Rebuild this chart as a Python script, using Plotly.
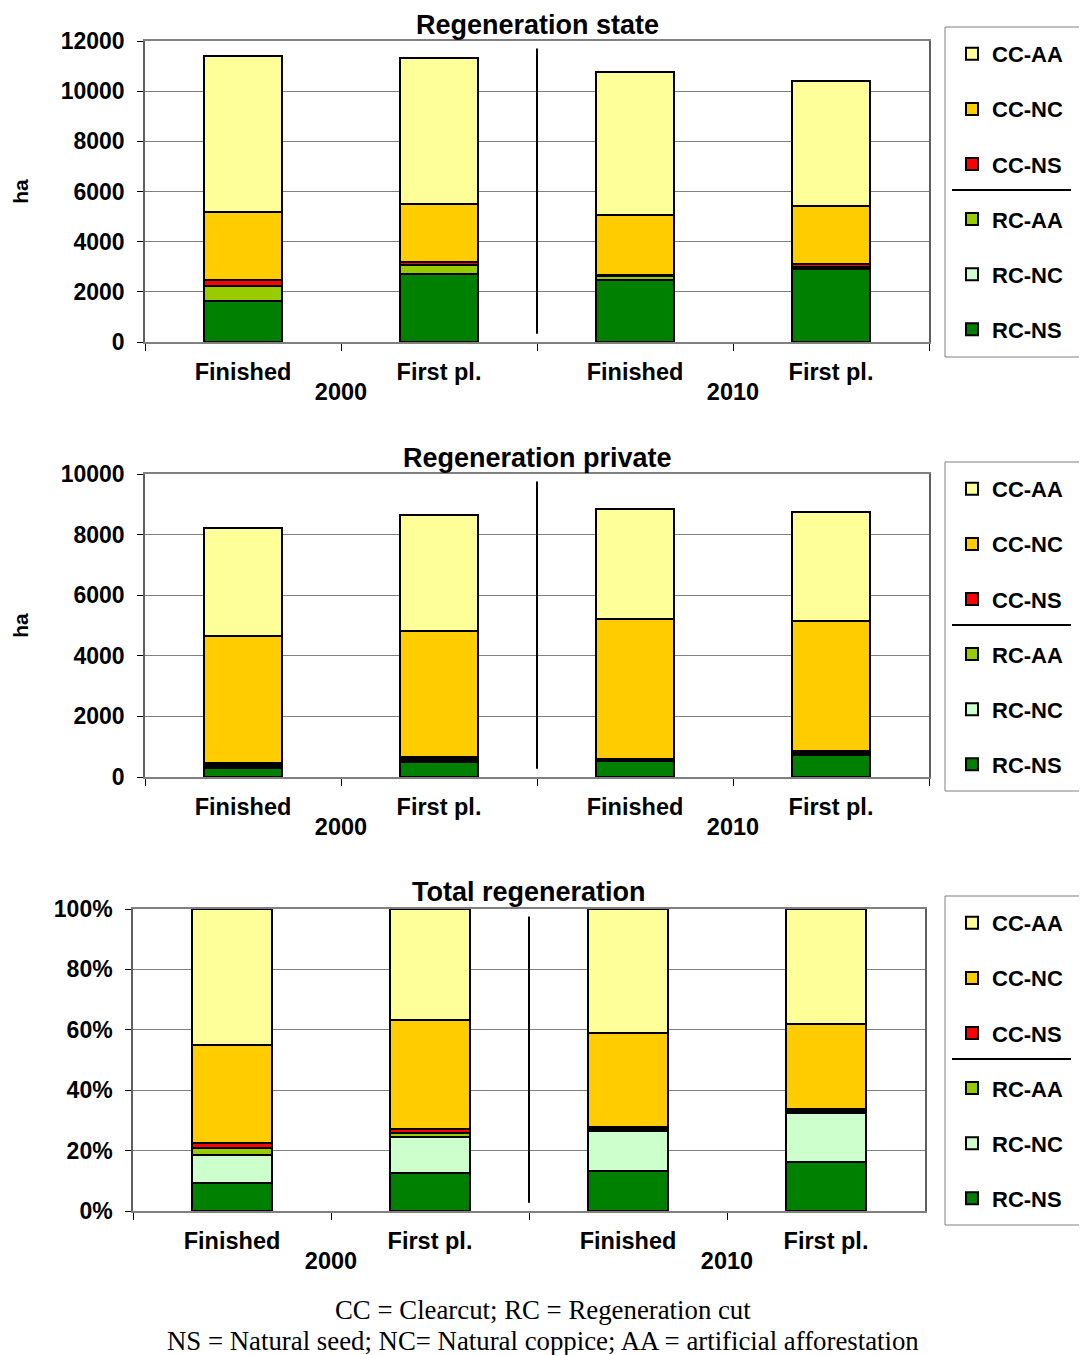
import plotly.graph_objects as go

years = ["2000", "2000", "2010", "2010"]
stages = ["Finished", "First pl.", "Finished", "First pl."]

series_names = ["RC-NS", "RC-NC", "RC-AA", "CC-NS", "CC-NC", "CC-AA"]
colors = ["#008000", "#CCFFCC", "#99CC00", "#FF0000", "#FFCC00", "#FFFF99"]

# Regeneration state (ha)
state_rc_ns = [1650, 2700, 2470, 2900]
state_rc_nc = [0, 0, 0, 0]
state_rc_aa = [580, 370, 150, 90]
state_cc_ns = [240, 130, 40, 110]
state_cc_nc = [2730, 2290, 2400, 2335]
state_cc_aa = [6200, 5830, 5700, 4970]

# Regeneration private (ha)
priv_rc_ns = [290, 490, 540, 730]
priv_rc_nc = [50, 40, 10, 40]
priv_rc_aa = [40, 50, 10, 40]
priv_cc_ns = [70, 70, 20, 60]
priv_cc_nc = [4200, 4170, 4640, 4280]
priv_cc_aa = [3570, 3830, 3640, 3600]

# Total regeneration (%)
tot_rc_ns = [9.2, 12.5, 13.3, 16.1]
tot_rc_nc = [9.2, 12.1, 13.3, 16.4]
tot_rc_aa = [2.4, 1.3, 0.5, 0.5]
tot_cc_ns = [1.8, 1.1, 0.8, 0.8]
tot_cc_nc = [32.4, 36.2, 30.9, 28.0]
tot_cc_aa = [45.0, 36.8, 41.2, 38.2]

state = [state_rc_ns, state_rc_nc, state_rc_aa, state_cc_ns, state_cc_nc, state_cc_aa]
private = [priv_rc_ns, priv_rc_nc, priv_rc_aa, priv_cc_ns, priv_cc_nc, priv_cc_aa]
total = [tot_rc_ns, tot_rc_nc, tot_rc_aa, tot_cc_ns, tot_cc_nc, tot_cc_aa]

titles = ["Regeneration state", "Regeneration private", "Total regeneration"]
footer = ["CC = Clearcut; RC = Regeneration cut",
          "NS = Natural seed; NC= Natural coppice; AA = artificial afforestation"]

W, H = 1087, 1355
OFF = 8  # page body margin offset
FONT = "Liberation Sans, Arial, sans-serif"


def px(x):
    return (x - OFF) / W


def py(y):
    return 1 - (y - OFF) / H


# plot areas in screen pixels: (x0, x1, ytop, ybottom)
areas = [(145, 929, 41, 342), (145, 929, 474, 777), (133, 925, 909, 1211)]
title_y = [25, 458, 892]
legend_boxes = [(27, 357), (462, 791), (896, 1225)]

fig = go.Figure()
datasets = [state, private, total]
for k, data in enumerate(datasets):
    xa = "x" if k == 0 else f"x{k+1}"
    ya = "y" if k == 0 else f"y{k+1}"
    lg = "legend" if k == 0 else f"legend{k+1}"
    for i, name in enumerate(series_names):
        fig.add_trace(go.Bar(
            x=[years, stages], y=data[i], name=name,
            marker=dict(color=colors[i], line=dict(color="black", width=2)),
            width=0.4, xaxis=xa, yaxis=ya, legend=lg,
            legendgroup=f"{k}-{name}", legendrank=len(series_names) - i,
        ))

layout = dict(
    width=W, height=H, barmode="stack",
    margin=dict(l=0, r=0, t=0, b=0, autoexpand=False),
    paper_bgcolor="white", plot_bgcolor="white",
    font=dict(family=FONT, color="black"),
)

yranges = [(0, 12000, 2000, ""), (0, 10000, 2000, ""), (0, 100, 20, "%")]
shapes = []
annotations = []
for k, (x0, x1, yt, yb) in enumerate(areas):
    xs = "" if k == 0 else str(k + 1)
    layout[f"xaxis{xs}"] = dict(
        domain=[px(x0), px(x1)], anchor=f"y{xs}", type="multicategory",
        showdividers=False, tickson="boundaries", ticks="outside", ticklen=7,
        tickcolor="black", showline=True, linecolor="#808080", linewidth=1.5,
        mirror=True, showgrid=False, automargin=False, ticklabelstandoff=8,
        tickfont=dict(family=FONT, size=23.5, weight="bold", color="black"),
    )
    r0, r1, dt, suf = yranges[k]
    layout[f"yaxis{xs}"] = dict(
        domain=[py(yb), py(yt)], anchor=f"x{xs}",
        range=[r0, r1], dtick=dt, ticksuffix=suf, tickformat="d",
        ticks="outside", ticklen=6,
        tickcolor="black", showline=True, linecolor="#606060", linewidth=1.5,
        mirror=True, showgrid=True, gridcolor="#808080", gridwidth=1,
        zeroline=False, ticklabelstandoff=8, automargin=False,
        tickfont=dict(family=FONT, size=23, weight="bold", color="black"),
        title=dict(text="ha" if k < 2 else "", standoff=26,
                   font=dict(family=FONT, size=21, weight="bold")),
    )
    bt, bb = legend_boxes[k]
    # legend box drawn as a shape so the separator line shows on top of it
    shapes.append(dict(type="rect", xref="paper", yref="paper",
                       x0=px(945), x1=px(1100), y0=py(bb), y1=py(bt),
                       fillcolor="white", line=dict(color="#808080", width=1)))
    lgname = "legend" if k == 0 else f"legend{k+1}"
    layout[lgname] = dict(
        x=px(952), y=py(bt + 6), xanchor="left", yanchor="top",
        bgcolor="rgba(0,0,0,0)", borderwidth=0,
        traceorder="grouped", tracegroupgap=23.5,
        font=dict(family=FONT, size=22, weight="bold", color="black"),
        itemwidth=30,
    )
    # middle separator between year groups
    shapes.append(dict(type="line", xref=f"x{xs} domain", yref=f"y{xs} domain",
                       x0=0.5, x1=0.5, y0=0.027, y1=0.975,
                       line=dict(color="black", width=2)))
    # legend separator line between CC and RC groups
    ly = bt + 163
    shapes.append(dict(type="line", xref="paper", yref="paper",
                       x0=px(952), x1=px(1071), y0=py(ly), y1=py(ly),
                       line=dict(color="black", width=2)))
    annotations.append(dict(
        text=titles[k], xref="paper", yref="paper",
        x=px((x0 + x1) / 2), y=py(title_y[k]), xanchor="center", yanchor="middle",
        showarrow=False, font=dict(family=FONT, size=27, weight="bold", color="black"),
    ))

for j, line in enumerate(footer):
    annotations.append(dict(
        text=line, xref="paper", yref="paper", x=px(543), y=py(1310 + 31 * j),
        xanchor="center", yanchor="middle", showarrow=False,
        font=dict(family="Liberation Serif, Times New Roman, serif", size=26.8, color="black"),
    ))

layout["shapes"] = shapes
layout["annotations"] = annotations
fig.update_layout(**layout)
fig.write_html("out.html")
